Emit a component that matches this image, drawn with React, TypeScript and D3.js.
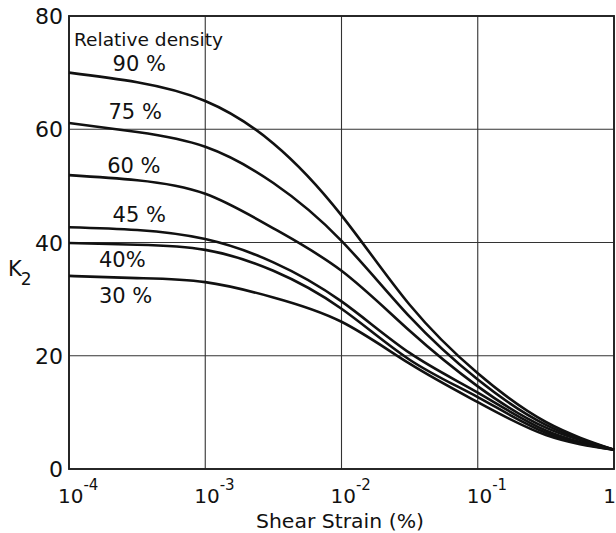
import React, { useEffect, useRef } from "react"
import * as d3 from "d3"

// strain in % (log10 of strain)
const strainExp = [-4, -3.5, -3, -2.5, -2, -1.5, -1, -0.5, 0]

const k2Dr90 = [70, 68.3, 65, 57.5, 44.8, 29, 16.9, 8.3, 3.4]
const k2Dr75 = [61.1, 59.5, 56.9, 50.5, 40.3, 26.9, 15.8, 7.8, 3.4]
const k2Dr60 = [51.9, 51, 48.6, 42.5, 35, 24.4, 14.6, 7.3, 3.4]
const k2Dr45 = [42.7, 42.2, 40.6, 36.5, 29.6, 20.5, 13.5, 6.8, 3.4]
const k2Dr40 = [39.9, 39.6, 38.7, 35, 28.3, 19.3, 12.7, 6.4, 3.4]
const k2Dr30 = [34.1, 33.7, 33, 30.3, 26, 18.6, 11.8, 6, 3.4]

const seriesLabels = ["90 %", "75 %", "60 %", "45 %", "40%", "30 %"]
const seriesValues = [k2Dr90, k2Dr75, k2Dr60, k2Dr45, k2Dr40, k2Dr30]
// where each label sits (strain exp, K2)
const labelPos = [[-3.68, 70.3], [-3.71, 61.8], [-3.72, 52.3], [-3.68, 43.6], [-3.78, 35.7], [-3.78, 29.3]]

const xTickExp = [-4, -3, -2, -1, 0]
const yTicks = [0, 20, 40, 60, 80]

const W = 616
const H = 533
const font = "DejaVu Sans, sans-serif"

export default function App() {
    const ref = useRef(null)

    useEffect(() => {
        const svg = d3.select(ref.current)
        svg.selectAll("*").remove()

        const x = d3.scaleLog().domain([1e-4, 1]).range([69, 614])
        const y = d3.scaleLinear().domain([0, 80]).range([469, 16])

        svg.append("rect").attr("width", W).attr("height", H).attr("fill", "#fff")

        // grid
        const grid = svg.append("g").attr("stroke", "#333").attr("stroke-width", 1.1)
        xTickExp.forEach(e => {
            grid.append("line")
                .attr("x1", x(Math.pow(10, e))).attr("x2", x(Math.pow(10, e)))
                .attr("y1", y(0)).attr("y2", y(80))
        })
        yTicks.forEach(v => {
            grid.append("line")
                .attr("x1", x(1e-4)).attr("x2", x(1))
                .attr("y1", y(v)).attr("y2", y(v))
        })
        // frame
        svg.append("rect")
            .attr("x", x(1e-4)).attr("y", y(80))
            .attr("width", x(1) - x(1e-4)).attr("height", y(0) - y(80))
            .attr("fill", "none").attr("stroke", "#222").attr("stroke-width", 1.9)

        // curves
        const line = d3.line()
            .x((d, i) => x(Math.pow(10, strainExp[i])))
            .y(d => y(d))
            .curve(d3.curveNatural)
        seriesValues.forEach(vals => {
            svg.append("path")
                .attr("d", line(vals))
                .attr("fill", "none")
                .attr("stroke", "#111")
                .attr("stroke-width", 2.6)
        })

        // series labels
        seriesValues.forEach((v, i) => {
            svg.append("text")
                .attr("x", x(Math.pow(10, labelPos[i][0])))
                .attr("y", y(labelPos[i][1]))
                .attr("font-family", font)
                .attr("font-size", 21)
                .attr("fill", "#111")
                .text(seriesLabels[i])
        })
        svg.append("text")
            .attr("x", 74).attr("y", 46)
            .attr("font-family", font)
            .attr("font-size", 17)
            .attr("textLength", 149)
            .attr("lengthAdjust", "spacingAndGlyphs")
            .attr("fill", "#111")
            .text("Relative density")

        // y tick labels
        yTicks.forEach(v => {
            svg.append("text")
                .attr("x", 63).attr("y", y(v) + 8)
                .attr("text-anchor", "end")
                .attr("font-family", font)
                .attr("font-size", 22)
                .attr("fill", "#111")
                .text(v)
        })

        // x tick labels: 10^n
        xTickExp.forEach(e => {
            const t = svg.append("text")
                .attr("x", e === 0 ? W : x(Math.pow(10, e)))
                .attr("y", 503)
                .attr("font-family", font)
                .attr("font-size", 20)
                .attr("fill", "#111")
                .attr("text-anchor", e === 0 ? "end" : "start")
            if (e === 0) {
                t.text("1")
            } else {
                t.attr("dx", -11).text("10")
                t.append("tspan").attr("dy", -13).attr("font-size", 15).text(String(e))
            }
        })

        svg.append("text")
            .attr("x", 340).attr("y", 528)
            .attr("text-anchor", "middle")
            .attr("font-family", font)
            .attr("font-size", 19)
            .attr("textLength", 168)
            .attr("lengthAdjust", "spacingAndGlyphs")
            .attr("fill", "#111")
            .text("Shear Strain (%)")

        // K2 axis label
        const k = svg.append("text")
            .attr("x", 8).attr("y", 276)
            .attr("font-family", font)
            .attr("font-size", 21)
            .attr("fill", "#111")
            .text("K")
        k.append("tspan").attr("dy", 9).attr("dx", -1).attr("font-size", 17).text("2")
    }, [])

    return (
        <svg
            ref={ref}
            width={W}
            height={H}
            style={{ position: "absolute", left: 0, top: 0 }}
        />
    )
}
